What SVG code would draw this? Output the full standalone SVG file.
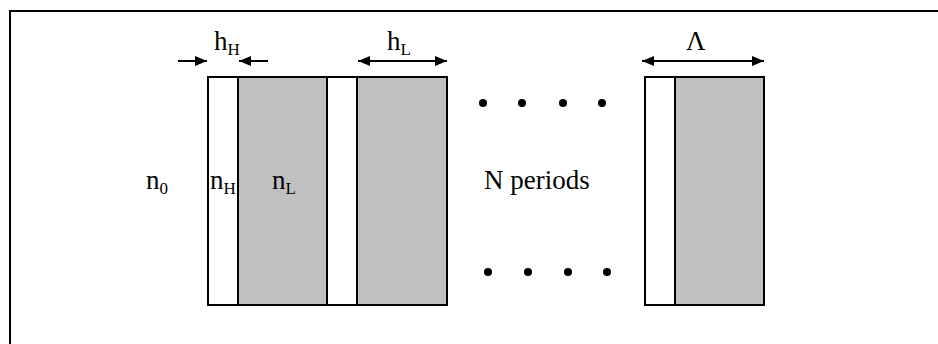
<svg xmlns="http://www.w3.org/2000/svg" width="938" height="344" viewBox="0 0 938 344">
<defs>
<marker id="ah" viewBox="0 0 12 10" refX="12" refY="5" markerWidth="12" markerHeight="10" markerUnits="userSpaceOnUse" orient="auto-start-reverse"><path d="M0,0 L12,5 L0,10 Z" fill="#000"/></marker>
</defs>
<style>
.t{font-family:"Liberation Serif","Times New Roman",serif;font-size:27px;fill:#000}
.s{font-size:17px}
.w{fill:#fff;stroke:#000;stroke-width:2}
.g{fill:#c0c0c0;stroke:#000;stroke-width:2}
.a{stroke:#000;stroke-width:2;fill:none}
.d{fill:#000}
</style>
<rect width="938" height="344" fill="#fff"/>
<path d="M10,344 L10,11 L938,11" fill="none" stroke="#000" stroke-width="2"/>
<g id="layer1"><rect class="w" x="208" y="77" width="30" height="228"/></g>
<g id="layer2"><rect class="g" x="238" y="77" width="89" height="228"/></g>
<g id="layer3"><rect class="w" x="327" y="77" width="30" height="228"/></g>
<g id="layer4"><rect class="g" x="357" y="77" width="90" height="228"/></g>
<g id="layer5"><rect class="w" x="645" y="77" width="30" height="228"/></g>
<g id="layer6"><rect class="g" x="675" y="77" width="89" height="228"/></g>
<g id="connectors">
<line class="a" x1="178" y1="61" x2="207" y2="61" marker-end="url(#ah)"/>
<line class="a" x1="268" y1="61" x2="239" y2="61" marker-end="url(#ah)"/>
<line class="a" x1="358" y1="61" x2="447" y2="61" marker-start="url(#ah)" marker-end="url(#ah)"/>
<line class="a" x1="642" y1="61" x2="764" y2="61" marker-start="url(#ah)" marker-end="url(#ah)"/>
</g>
<g id="labels">
<text class="t" x="214" y="50">h<tspan class="s" dy="5">H</tspan></text>
<text class="t" x="387" y="50">h<tspan class="s" dy="5">L</tspan></text>
<text class="t" x="686" y="50">Λ</text>
<text class="t" x="146" y="189">n<tspan class="s" dy="5">0</tspan></text>
<text class="t" x="210" y="189">n<tspan class="s" dy="5">H</tspan></text>
<text class="t" x="272" y="189">n<tspan class="s" dy="5">L</tspan></text>
<text class="t" x="484" y="189">N periods</text>
</g>
<g id="dots">
<circle class="d" cx="483" cy="103" r="4"/><circle class="d" cx="522" cy="103" r="4"/><circle class="d" cx="563" cy="103" r="4"/><circle class="d" cx="602" cy="103" r="4"/>
<circle class="d" cx="488" cy="272" r="4"/><circle class="d" cx="528" cy="272" r="4"/><circle class="d" cx="568" cy="272" r="4"/><circle class="d" cx="607" cy="272" r="4"/>
</g>
</svg>
